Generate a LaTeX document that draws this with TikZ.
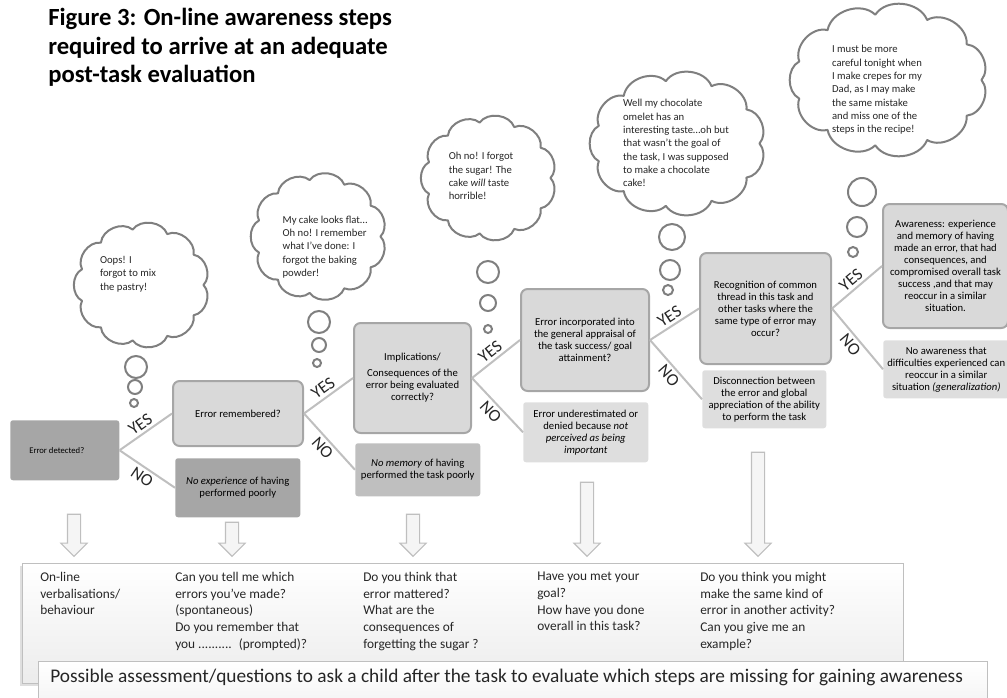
\documentclass[tikz,border=0pt]{standalone}
\usepackage{fontspec}
\setmainfont{Carlito}
\usetikzlibrary{shapes.arrows,shadows}

\definecolor{boxfill}{HTML}{D9D9D9}
\definecolor{boxline}{HTML}{A6A6A6}
\definecolor{darkfill}{HTML}{A6A6A6}
\definecolor{midfill}{HTML}{BFBFBF}
\definecolor{lightfill}{HTML}{DEDEDE}
\definecolor{branchgray}{HTML}{BFBFBF}
\definecolor{cloudline}{HTML}{7F7F7F}
\definecolor{textgray}{HTML}{262626}

% puffy cloud round an ellipse: centre x, centre y, half width, half height
\newcommand\thinkcloud[4]{%
  \draw[thought] ({#1+#3},{#2})
    \foreach \i [evaluate=\i as \t using \i*360/11] in {1,...,11} {
      to[bend left=62] ({#1+#3*cos(\t)},{#2+#4*sin(\t)})
    } -- cycle;}

\begin{document}
\begin{tikzpicture}[
  x=0.75pt, y=-0.75pt,
  box/.style={draw=boxline, line width=1.5pt, fill=boxfill, rounded corners=5pt, anchor=north west,
    align=center, inner sep=2pt, font=\fontsize{8}{9}\selectfont},
  outcome/.style={fill=#1, rounded corners=2pt, anchor=north west, align=center, inner sep=2pt,
    font=\fontsize{8}{9}\selectfont},
  branch/.style={draw=branchgray, line width=1.5pt},
  yes/.style={sloped, above, inner sep=2pt, text=textgray, font=\fontsize{13}{13}\selectfont},
  no/.style={sloped, below, inner sep=2pt, text=textgray, font=\fontsize{13}{13}\selectfont},
  thought/.style={draw=cloudline, line width=1.5pt, fill=white, line join=round},
  say/.style={align=left, inner sep=0pt, text=textgray, font=\fontsize{8}{10}\selectfont},
  bubble/.style={draw=cloudline, line width=1.5pt, fill=white},
  flow/.style={single arrow, shape border rotate=270, draw=branchgray, fill=gray!8, line width=0.8pt,
    inner sep=4.5pt, single arrow head extend=4.9pt, anchor=tip},
  ask/.style={anchor=north west, align=left, inner sep=0pt, text=textgray, font=\fontsize{10}{12.5}\selectfont}
]
  \useasboundingbox (0,0) rectangle (1007,697);

  % Title
  \node[anchor=north west, align=left, inner sep=0pt, font=\bfseries\fontsize{18.5}{21.5}\selectfont]
    (heading) at (48,8) {Figure 3: On-line awareness steps\\required to arrive at an adequate\\post-task evaluation};

  % Thought clouds
  \thinkcloud{141.5}{285}{62}{56}
  \thinkcloud{318.5}{236.5}{62}{57}
  \thinkcloud{488.5}{178}{62}{56}
  \thinkcloud{677.5}{143.5}{82}{63}
  \thinkcloud{888.5}{80}{93}{66}

  \node[say] (sayA) at (128,274) {Oops! I\\forgot to mix\\the pastry!};
  \node[say] (sayB) at (325,247) {My cake looks flat…\\Oh no! I remember\\what I've done: I\\forgot the baking\\powder!};
  \node[say] (sayC) at (481,176) {Oh no! I forgot\\the sugar! The\\cake \textit{will} taste\\horrible!};
  \node[say] (sayD) at (676,143) {Well my chocolate\\omelet has an\\interesting taste…oh but\\that wasn't the goal of\\the task, I was supposed\\to make a chocolate\\cake!};
  \node[say] (sayE) at (877,90) {I must be more\\careful tonight when\\I make crepes for my\\Dad, as I may make\\the same mistake\\and miss one of the\\steps in the recipe!};

  \foreach \cx/\cy/\r in {136/367/11, 135/387/7, 134/403/4,
                          319/322/11, 319/345/7, 317/363/4,
                          488/272/11, 488/303/8, 488/329/4,
                          672/237/13, 670/270/10, 668/290/5,
                          862/192/14, 857/227/10, 853/252/5}
    \draw[bubble] (\cx,\cy) circle[radius=\r*0.75pt];

  % Steps
  \node[outcome=darkfill, minimum width=81.75pt, minimum height=45pt, font=\fontsize{6.5}{8}\selectfont]
    (detected) at (10,420) {Error detected?\hspace{12pt}};
  \node[box, minimum width=97.5pt, minimum height=48.75pt] (remembered) at (172,380) {Error remembered?};
  \node[outcome=darkfill, minimum width=93.75pt, minimum height=44.25pt] (noexp) at (175,458)
    {\textit{No experience} of having\\performed poorly};
  \node[box, minimum width=87.75pt, minimum height=82.5pt] (implications) at (353,322)
    {Implications/\\[3pt]Consequences of the\\error being evaluated\\correctly?};
  \node[outcome=midfill, minimum width=93.75pt, minimum height=39.75pt] (nomemory) at (355,443)
    {\textit{No memory} of having\\performed the task poorly};
  \node[box, minimum width=96pt, minimum height=76.5pt] (appraisal) at (520,288)
    {Error incorporated into\\the general appraisal of\\the task success/ goal\\attainment?};
  \node[outcome=lightfill, minimum width=93.75pt, minimum height=45pt] (underest) at (523,402)
    {Error underestimated or\\denied because \textit{not}\\\textit{perceived as being}\\\textit{important}};
  \node[box, minimum width=98.25pt, minimum height=83.25pt] (recognition) at (699,252)
    {Recognition of common\\thread in this task and\\other tasks where the\\same type of error may\\occur?};
  \node[outcome=lightfill, minimum width=93pt, minimum height=43.5pt] (disconnect) at (702,370)
    {Disconnection between\\the error and global\\appreciation of the ability\\to perform the task};
  \node[box, minimum width=93.75pt, minimum height=93pt] (awareness) at (882,203)
    {Awareness: experience\\and memory of having\\made an error, that had\\consequences, and\\compromised overall task\\success ,and that may\\reoccur in a similar\\situation.};
  \node[outcome=lightfill, minimum width=94.5pt, minimum height=43.5pt] (noaware) at (883,340)
    {No awareness that\\difficulties experienced can\\reoccur in a similar\\situation \textit{(generalization)}};

  % Branches
  \draw[branch] (detected.east) -- node[yes] {YES} (remembered.west);
  \draw[branch] (detected.east) -- node[no] {NO} (noexp.west);
  \draw[branch] (remembered.east) -- node[yes] {YES} (implications.west);
  \draw[branch] (remembered.east) -- node[no] {NO} (nomemory.west);
  \draw[branch] (implications.east) -- node[yes] {YES} (appraisal.west);
  \draw[branch] (implications.east) -- node[no] {NO} (underest.west);
  \draw[branch] (appraisal.east) -- node[yes] {YES} (recognition.west);
  \draw[branch] (appraisal.east) -- node[no] {NO} (disconnect.west);
  \draw[branch] (recognition.east) -- node[yes] {YES} (awareness.west);
  \draw[branch] (recognition.east) -- node[no] {NO} (noaware.west);

  % Questions panel
  \node[anchor=north west, draw=branchgray, line width=0.8pt, top color=white, bottom color=gray!15,
    drop shadow={opacity=0.25, shadow xshift=-2pt, shadow yshift=-2pt},
    minimum width=660.75pt, minimum height=90pt] (questions) at (22,563) {};
  \node[ask] (askA) at (40,572) {On-line\\verbalisations/\\behaviour};
  \node[ask] (askB) at (175,572) {Can you tell me which\\errors you've made?\\(spontaneous)\\Do you remember that\\you .......... \ (prompted)?};
  \node[ask] (askC) at (363,572) {Do you think that\\error mattered?\\What are the\\consequences of\\forgetting the sugar ?};
  \node[ask] (askD) at (537,572) {Have you met your\\goal?\\How have you done\\overall in this task?};
  \node[ask] (askE) at (700,572) {Do you think you might\\make the same kind of\\error in another activity?\\Can you give me an\\example?};

  \node[anchor=north west, draw=branchgray, line width=0.8pt, top color=white, bottom color=gray!8,
    minimum width=711.75pt, minimum height=30pt] (captionbox) at (38,661) {};
  \node[anchor=west, inner sep=0pt, text=black!85, font=\fontsize{14.5}{17}\selectfont] (caption) at (50,677)
    {Possible assessment/questions to ask a child after the task to evaluate which steps are missing for gaining awareness};

  % Arrows down to the questions
  \node[flow, minimum height=31.5pt, minimum width=18.75pt] (flowA) at (74,557) {};
  \node[flow, minimum height=25.5pt, minimum width=18.75pt] (flowB) at (232,557) {};
  \node[flow, minimum height=31.5pt, minimum width=18.75pt] (flowC) at (413,557) {};
  \node[flow, minimum height=55.5pt, minimum width=18.75pt] (flowD) at (587,557) {};
  \node[flow, minimum height=78pt, minimum width=18.75pt] (flowE) at (758,557) {};
\end{tikzpicture}
\end{document}
